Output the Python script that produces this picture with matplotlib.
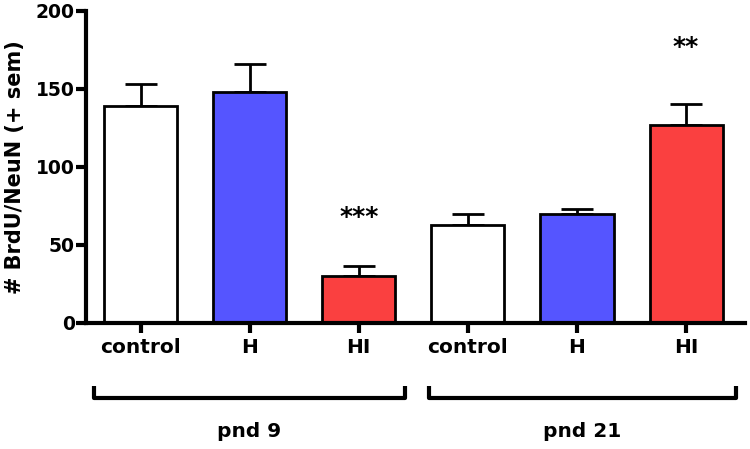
import matplotlib
matplotlib.use("Agg")
import matplotlib.pyplot as plt
import matplotlib.transforms as mtransforms

plt.rcParams['font.family'] = ['DejaVu Sans']

categories = ["control", "H", "HI", "control", "H", "HI"]
means = [139, 148, 30, 63, 70, 127]
sems = [14, 18, 6.5, 6.5, 3, 13]
colors = ["#FFFFFF", "#5555FF", "#FA4040", "#FFFFFF", "#5555FF", "#FA4040"]
stars = {2: "***", 5: "**"}
star_y = [None, None, 63.5, None, None, 172]
groups = ["pnd 9", "pnd 21"]
group_spans = [(-0.43, 2.42), (2.64, 5.46)]
yticks = [0, 50, 100, 150, 200]

fig = plt.figure(figsize=(7.5, 4.49), dpi=100)
ax = fig.add_axes([86/750, 1-323/449, (745-86)/750, (323-10.7)/449])

x = list(range(len(categories)))
ax.bar(x, means, width=0.67, color=colors, edgecolor="black", linewidth=2, zorder=2)
ax.errorbar(x, means, yerr=[[0]*len(sems), sems], fmt="none", ecolor="black",
            elinewidth=2, capsize=11.5, capthick=2, zorder=1)

for i, s in stars.items():
    ax.text(i, star_y[i], s, ha="center", va="baseline", fontsize=18, fontweight="bold")

ax.set_xlim(-0.5, 5.54)
ax.set_ylim(0, 200)
ax.set_yticks(yticks)
ax.set_xticks(x)
ax.set_xticklabels(categories)
for sp in ["top", "right"]:
    ax.spines[sp].set_visible(False)
for sp in ["left", "bottom"]:
    ax.spines[sp].set_linewidth(3)
ax.tick_params(axis="both", direction="out", length=7, width=3)
ax.tick_params(axis="y", pad=1, labelsize=13.5)
ax.tick_params(axis="x", pad=4, labelsize=14.5)
for lab in ax.get_xticklabels() + ax.get_yticklabels():
    lab.set_fontweight("bold")

ax.set_ylabel("# BrdU/NeuN (+ sem)", fontsize=15, fontweight="bold")
ax.yaxis.set_label_coords(-0.0926, 0.5)

trans = mtransforms.blended_transform_factory(ax.transData, ax.transAxes)
yb, yt = -0.240, -0.202
for (x0, x1), g in zip(group_spans, groups):
    ax.plot([x0, x0, x1, x1], [yt, yb, yb, yt], color="black", lw=3,
            transform=trans, clip_on=False, solid_capstyle="butt")
    ax.text((x0 + x1) / 2, -0.349, g, transform=trans, ha="center", va="center",
            fontsize=14.5, fontweight="bold")

fig.savefig("out.png", dpi=100)
